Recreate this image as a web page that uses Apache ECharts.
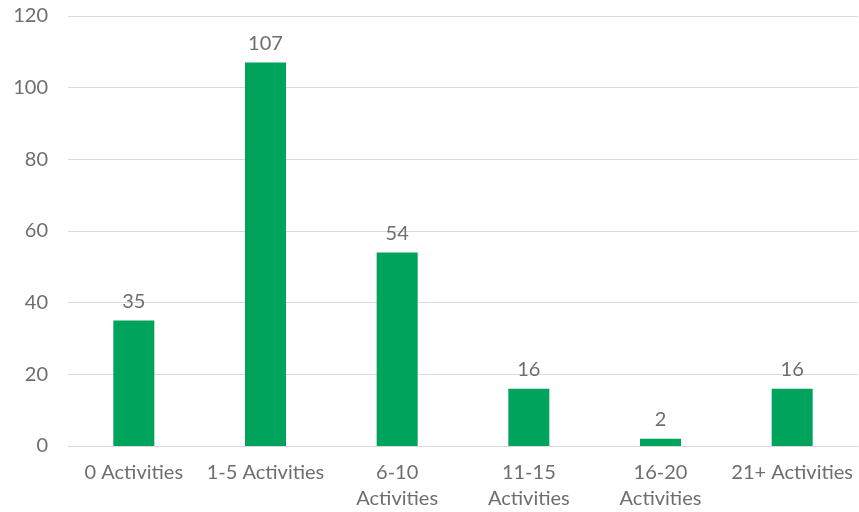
<!DOCTYPE html>
<html>
<head>
<meta charset="utf-8">
<script src="https://cdn.jsdelivr.net/npm/echarts@6/dist/echarts.min.js"></script>
<style>
  html, body { margin: 0; padding: 0; background: #fff; }
  #chart { width: 859px; height: 512px; }
</style>
</head>
<body>
<div id="chart"></div>
<script>
// Number of participants by activity count
const categories = ['0 Activities', '1-5 Activities', '6-10\nActivities', '11-15\nActivities', '16-20\nActivities', '21+ Activities'];
const counts = [35, 107, 54, 16, 2, 16];
const yTicks = { min: 0, max: 120, interval: 20 };

const textColor = '#6e6e6e';
const fontFamily = 'Lato, "Noto Sans", sans-serif';

const chart = echarts.init(document.getElementById('chart'));
chart.setOption({
  animation: false,
  grid: { left: 68, right: 1, top: 16, bottom: 64, containLabel: false },
  xAxis: {
    type: 'category',
    data: categories,
    axisLine: { show: true, lineStyle: { color: '#d9d9d9', width: 1 } },
    axisTick: { show: false },
    axisLabel: {
      color: textColor, fontSize: 20, fontFamily: fontFamily,
      margin: 14, lineHeight: 26, interval: 0
    }
  },
  yAxis: {
    type: 'value',
    min: yTicks.min, max: yTicks.max, interval: yTicks.interval,
    axisLine: { show: false },
    axisTick: { show: false },
    splitLine: { lineStyle: { color: '#d9d9d9', width: 1 } },
    axisLabel: { color: textColor, fontSize: 20, fontFamily: fontFamily, margin: 20 }
  },
  series: [{
    type: 'bar',
    data: counts,
    barWidth: 41,
    itemStyle: { color: '#00a35c' },
    label: {
      show: true, position: 'top', distance: 9,
      color: textColor, fontSize: 20, fontFamily: fontFamily
    }
  }]
});
</script>
</body>
</html>
